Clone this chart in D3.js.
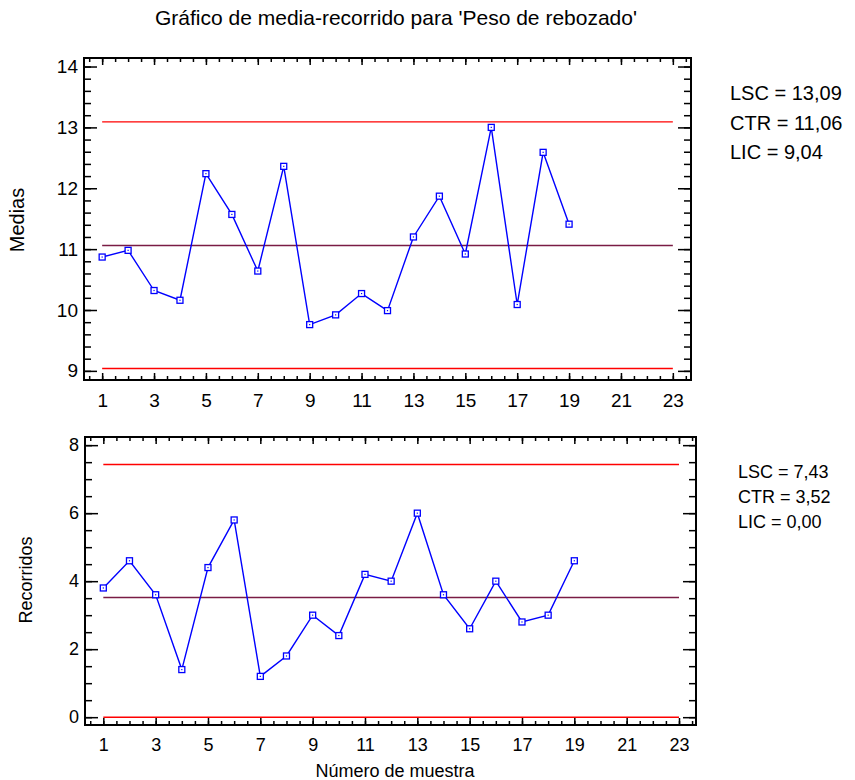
<!DOCTYPE html>
<html>
<head>
<meta charset="utf-8">
<script src="https://cdn.jsdelivr.net/npm/d3@7"></script>
<style>
    body { margin: 0; background: #fff; }
    svg { font-family: "Liberation Sans", Arial, sans-serif; }
    .tick text { fill: #000; }
</style>
</head>
<body>
<svg id="canvas"></svg>
<script>
// sample data
var samples = [1, 2, 3, 4, 5, 6, 7, 8, 9, 10, 11, 12, 13, 14, 15, 16, 17, 18, 19];
var medias = [10.87, 10.98, 10.32, 10.16, 12.24, 11.57, 10.64, 12.36, 9.76, 9.92,
    10.27, 9.99, 11.20, 11.87, 10.92, 13.00, 10.09, 12.59, 11.41];
var recorridos = [3.8, 4.6, 3.6, 1.4, 4.4, 5.8, 1.2, 1.8, 3.0, 2.4,
    4.2, 4.0, 6.0, 3.6, 2.6, 4.0, 2.8, 3.0, 4.6];

var limitNames = ["LSC", "CTR", "LIC"];
var mediasLimits = [13.09, 11.06, 9.04];
var recorridosLimits = [7.43, 3.52, 0.00];

var xTicks = [1, 3, 5, 7, 9, 11, 13, 15, 17, 19, 21, 23];
var mediasTicks = [9, 10, 11, 12, 13, 14];
var recorridosTicks = [0, 2, 4, 6, 8];

var title = "Gráfico de media-recorrido para 'Peso de rebozado'";

var svg = d3.select("svg")
    .attr("width", 855)
    .attr("height", 780);

svg.append("text")
    .attr("x", 396)
    .attr("y", 25)
    .attr("text-anchor", "middle")
    .style("font-size", "21px")
    .text(title);

function fmt(v) {
    return v.toFixed(2).replace(".", ",");
}

function drawPanel(p) {
    var x = d3.scaleLinear().domain(p.xDomain).range([p.left, p.right]);
    var y = d3.scaleLinear().domain(p.yDomain).range([p.bottom, p.top]);
    var g = svg.append("g");

    // minor ticks on all four sides
    var xMinor = d3.range(0.5, 23.51, 0.5);
    var yMinor = d3.range(p.yTicks[0], p.yTicks[p.yTicks.length - 1] + 1e-6, p.yMinorStep);

    function ticks(axis, scale, values, size, tx, ty, labels) {
        var a = axis(scale).tickValues(values).tickSizeInner(-size).tickSizeOuter(0).tickPadding(6);
        a.tickFormat(labels ? d3.format("d") : "");
        var s = g.append("g")
            .attr("transform", "translate(" + tx + "," + ty + ")")
            .call(a);
        s.select(".domain").remove();
        s.selectAll("line").attr("stroke", "#000").attr("stroke-width", 1.5);
        s.selectAll("text").style("font-size", p.tickFont + "px");
        return s;
    }

    ticks(d3.axisBottom, x, xMinor, 4, 0, p.bottom, false);
    ticks(d3.axisTop, x, xMinor, 4, 0, p.top, false);
    ticks(d3.axisBottom, x, xTicks, 7, 0, p.bottom, true)
        .selectAll("text").attr("dy", "1.1em");
    ticks(d3.axisTop, x, xTicks, 7, 0, p.top, false);

    ticks(d3.axisLeft, y, yMinor, 7, p.left, 0, false);
    ticks(d3.axisRight, y, yMinor, 7, p.right, 0, false);
    ticks(d3.axisLeft, y, p.yTicks, 13, p.left, 0, true);
    ticks(d3.axisRight, y, p.yTicks, 13, p.right, 0, false);

    // control limits
    var limitColors = ["#ff0000", "#7a1c44", "#ff0000"];
    g.selectAll(".limit")
        .data(p.limits)
        .enter()
        .append("line")
        .attr("class", "limit")
        .attr("x1", x(1))
        .attr("x2", x(23))
        .attr("y1", d => y(d))
        .attr("y2", d => y(d))
        .attr("stroke", (d, i) => limitColors[i])
        .attr("stroke-width", 1.4);

    // series
    var line = d3.line()
        .x((d, i) => x(samples[i]))
        .y(d => y(d));

    g.append("path")
        .datum(p.values)
        .attr("fill", "none")
        .attr("stroke", "#0000ff")
        .attr("stroke-width", 1.4)
        .attr("d", line);

    var pts = g.append("g")
        .selectAll("g")
        .data(p.values)
        .enter()
        .append("g")
        .attr("transform", (d, i) => "translate(" + x(samples[i]) + "," + y(d) + ")");
    pts.append("rect")
        .attr("x", -3).attr("y", -3)
        .attr("width", 6).attr("height", 6)
        .attr("fill", "#fff")
        .attr("stroke", "#0000ff")
        .attr("stroke-width", 1.3);
    pts.append("rect")
        .attr("x", -0.6).attr("y", -0.6)
        .attr("width", 1.2).attr("height", 1.2)
        .attr("fill", "#0000ff");

    // frame
    g.append("rect")
        .attr("x", p.left)
        .attr("y", p.top)
        .attr("width", p.right - p.left)
        .attr("height", p.bottom - p.top)
        .attr("fill", "none")
        .attr("stroke", "#000")
        .attr("stroke-width", 2);

    // y label
    g.append("text")
        .attr("transform", "translate(" + p.yLabelX + "," + p.yLabelY + ") rotate(-90)")
        .attr("text-anchor", "middle")
        .style("font-size", p.labelFont + "px")
        .text(p.yLabel);

    // limit values on the right
    g.selectAll(".limtext")
        .data(p.limits)
        .enter()
        .append("text")
        .attr("class", "limtext")
        .attr("x", p.textX)
        .attr("y", (d, i) => p.textY + i * p.textStep)
        .style("font-size", p.textFont + "px")
        .text((d, i) => limitNames[i] + " = " + fmt(d));
}

drawPanel({
    left: 84, right: 691, top: 58, bottom: 380,
    xDomain: [0.3, 23.7], yDomain: [8.85, 14.14],
    yTicks: mediasTicks, yMinorStep: 0.2,
    values: medias, limits: mediasLimits,
    yLabel: "Medias", yLabelX: 24, yLabelY: 220,
    tickFont: 19, labelFont: 20,
    textX: 730, textY: 100, textStep: 29.5, textFont: 20
});

drawPanel({
    left: 85, right: 696, top: 437, bottom: 725,
    xDomain: [0.3, 23.65], yDomain: [-0.23, 8.24],
    yTicks: recorridosTicks, yMinorStep: 0.5,
    values: recorridos, limits: recorridosLimits,
    yLabel: "Recorridos", yLabelX: 32, yLabelY: 580,
    tickFont: 18, labelFont: 18,
    textX: 738, textY: 478, textStep: 25, textFont: 18
});

svg.append("text")
    .attr("x", 395)
    .attr("y", 777)
    .attr("text-anchor", "middle")
    .style("font-size", "18px")
    .text("Número de muestra");
</script>
</body>
</html>
